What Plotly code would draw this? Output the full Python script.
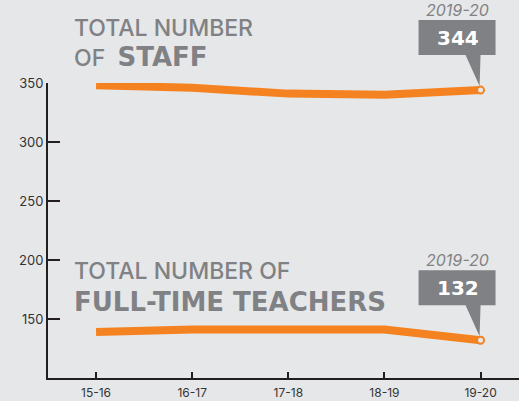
import plotly.graph_objects as go

years = ["15-16", "16-17", "17-18", "18-19", "19-20"]
staff = [348, 346, 341, 340, 344]
teachers = [139, 141, 141, 141, 132]
y_ticks = [150, 200, 250, 300, 350]
y_range = [100, 350]
callout_year = "2019-20"

ORANGE = "#F58220"
GRAY = "#808184"
BG = "#e6e7e8"
TITLE_FONT = "Inter"
HEAVY_FONT = "DejaVu Sans"

xs = list(range(len(years)))
x_range = [-0.5, 4.4]

fig = go.Figure()
for series in (staff, teachers):
    fig.add_trace(go.Scatter(
        x=xs, y=series, mode="lines",
        line=dict(color=ORANGE, width=8),
        hoverinfo="skip", showlegend=False,
    ))
    fig.add_trace(go.Scatter(
        x=[xs[-1]], y=[series[-1]], mode="markers",
        marker=dict(size=7, color=BG, line=dict(color=ORANGE, width=2)),
        hoverinfo="skip", showlegend=False,
    ))


def dom(v, rng):
    return (v - rng[0]) / (rng[1] - rng[0])


shapes = []
annotations = []
for series in (staff, teachers):
    xv, yv = xs[-1], series[-1]
    shapes.append(dict(
        type="path", xref="x domain", yref="y domain",
        xsizemode="pixel", ysizemode="pixel",
        xanchor=dom(xv, x_range), yanchor=dom(yv, y_range),
        path="M 15,35 L 15,70 L -62,70 L -62,35 L -15,35 L -1,4 L 0,35 Z",
        fillcolor=GRAY, line=dict(width=0), layer="above",
    ))
    annotations.append(dict(
        x=xv, y=yv, xref="x", yref="y", text=f"<b>{yv}</b>",
        showarrow=False, xshift=-23, yshift=52,
        font=dict(family=HEAVY_FONT, size=20, color="white"),
    ))
    annotations.append(dict(
        x=xv, y=yv, xref="x", yref="y", text=f"<i>{callout_year}</i>",
        showarrow=False, xshift=-23, yshift=80,
        font=dict(family=TITLE_FONT, size=16, color=GRAY),
    ))

HEAVY = "<span style='font-family:\"DejaVu Sans\";font-weight:bold;font-size:26px'>{}</span>"
titles = [
    ("TOTAL NUMBER", 12),
    ("OF  " + HEAVY.format("STAFF"), 40),
    ("TOTAL NUMBER OF", 255),
    (HEAVY.format("FULL-TIME TEACHERS"), 285),
]
W, H = 519, 401
ML, MR, MT, MB = 48, 0, 83, 23
pw, ph = W - ML - MR, H - MT - MB
for text, ytop in titles:
    annotations.append(dict(
        x=(72 - ML) / pw, y=(H - MB - ytop) / ph,
        xref="paper", yref="paper", text=text,
        showarrow=False, xanchor="left", yanchor="top",
        font=dict(family=TITLE_FONT, size=23, color=GRAY, weight=500),
    ))

fig.update_layout(
    width=W, height=H,
    margin=dict(l=ML, r=MR, t=MT, b=MB, autoexpand=False),
    paper_bgcolor=BG, plot_bgcolor=BG,
    shapes=shapes, annotations=annotations,
    font=dict(family="Inter", size=13, color="#333333"),
    xaxis=dict(
        range=x_range, tickvals=xs, ticktext=years,
        showgrid=False, zeroline=False, showline=True,
        linecolor="#231f20", linewidth=2,
        ticks="inside", ticklen=6, tickwidth=1.5, tickcolor="#231f20",
        ticklabelstandoff=3, tickfont=dict(size=12),
        fixedrange=True, automargin=False,
    ),
    yaxis=dict(
        range=y_range, tickvals=y_ticks,
        showgrid=False, zeroline=False, showline=True,
        linecolor="#231f20", linewidth=2,
        ticks="inside", ticklen=12, tickwidth=1.5, tickcolor="#231f20",
        fixedrange=True, automargin=False,
    ),
)

fig.write_html(
    "out.html",
    config={"displayModeBar": False},
    post_script="document.body.style.margin='0px';",
)
